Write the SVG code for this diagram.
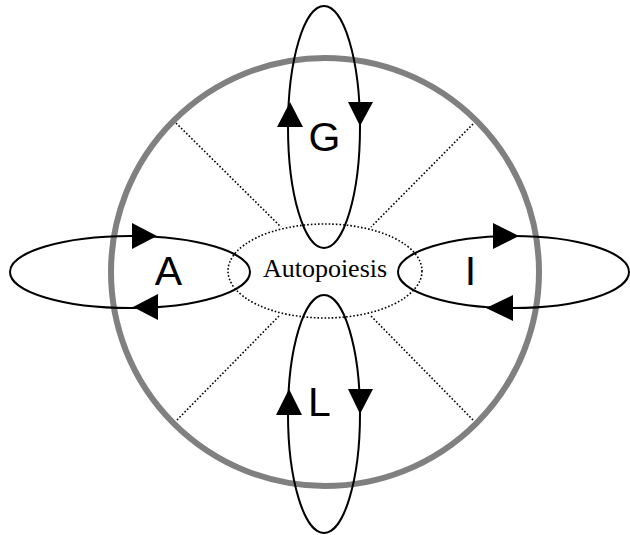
<svg xmlns="http://www.w3.org/2000/svg" width="630" height="535" viewBox="0 0 630 535">
<style>
.loop{fill:none;stroke:#000;stroke-width:2}
.dot{fill:none;stroke:#000;stroke-width:1.6;stroke-dasharray:1.6 2}
.arr{fill:#000;stroke:none}
.big{font-family:"Liberation Sans",Arial,sans-serif;font-size:41px;fill:#000}
.lab{font-family:"Liberation Serif","Times New Roman",serif;font-size:26px;fill:#000}
</style>
<rect width="630" height="535" fill="#fff"/>
<g id="connectors">
<line class="dot" x1="176" y1="123" x2="281" y2="227"/>
<line class="dot" x1="473" y1="124" x2="371" y2="227"/>
<line class="dot" x1="177" y1="420" x2="280" y2="315"/>
<line class="dot" x1="473" y1="420" x2="370" y2="315"/>
</g>
<g id="boundary">
<circle cx="325" cy="272" r="214" fill="none" stroke="#808080" stroke-width="6"/>
</g>
<g id="autopoiesis">
<ellipse class="dot" cx="325" cy="271" rx="97" ry="47"/>
<text class="lab" x="325" y="277" text-anchor="middle">Autopoiesis</text>
</g>
<g id="G">
<ellipse class="loop" cx="324" cy="127" rx="36" ry="121"/>
<polygon class="arr" points="290,102 277,127 303,127"/>
<polygon class="arr" points="348,102 373,102 360,126"/>
<text class="big" x="324.5" y="151" text-anchor="middle">G</text>
</g>
<g id="L">
<ellipse class="loop" cx="324" cy="414" rx="36" ry="119"/>
<polygon class="arr" points="289,389 276,415 302,415"/>
<polygon class="arr" points="348,389 373,389 360,414"/>
<text class="big" x="308" y="416">L</text>
</g>
<g id="A">
<ellipse class="loop" cx="130" cy="272" rx="120" ry="36"/>
<polygon class="arr" points="157,236 132,223 132,249"/>
<polygon class="arr" points="133,307 158,294 158,320"/>
<text class="big" x="168.5" y="285" text-anchor="middle">A</text>
</g>
<g id="I">
<ellipse class="loop" cx="513.5" cy="272" rx="115.5" ry="36"/>
<polygon class="arr" points="519,236 493,223 493,249"/>
<polygon class="arr" points="486,308 513,295 513,321"/>
<text class="big" x="470.5" y="285" text-anchor="middle">I</text>
</g>
</svg>
